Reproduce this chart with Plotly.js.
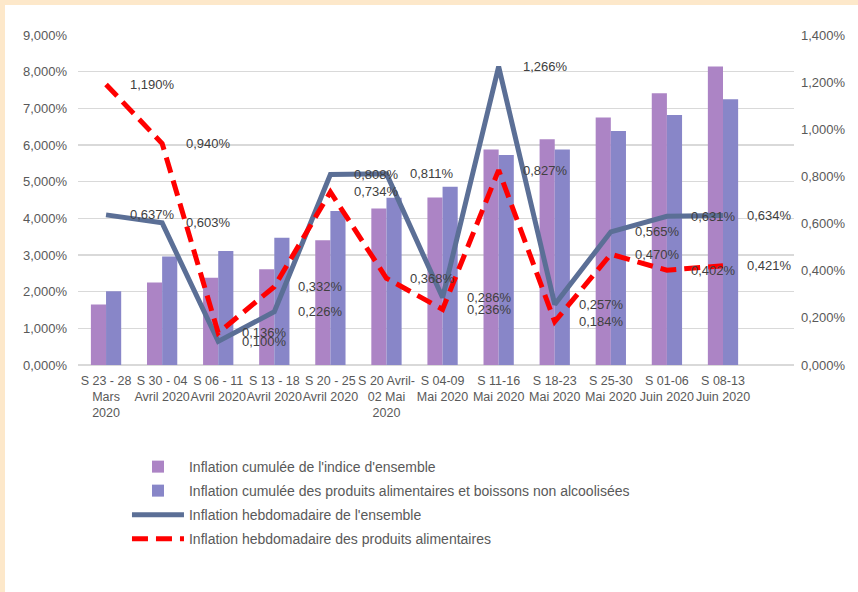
<!DOCTYPE html>
<html>
<head>
<meta charset="utf-8">
<script src="https://cdn.plot.ly/plotly-3.0.1.min.js"></script>
<style>
  html, body { margin: 0; padding: 0; background: #FDE8CA; width: 858px; height: 592px; overflow: hidden; }
  #chart { position: absolute; left: 5px; top: 5px; width: 853px; height: 587px; background: #fff; }
</style>
</head>
<body>
<div id="chart"></div>
<script>
const categories = [
  "S 23 - 28<br>Mars<br>2020", "S 30 - 04<br>Avril 2020", "S 06 - 11<br>Avril 2020",
  "S 13 - 18<br>Avril 2020", "S 20 - 25<br>Avril 2020", "S 20 Avril-<br>02 Mai<br>2020",
  "S 04-09<br>Mai 2020", "S 11-16<br>Mai 2020", "S 18-23<br>Mai 2020",
  "S 25-30<br>Mai 2020", "S 01-06<br>Juin 2020", "S 08-13<br>Juin 2020"
];
const cumEnsemble = [1.65, 2.25, 2.38, 2.61, 3.40, 4.27, 4.57, 5.88, 6.16, 6.75, 7.41, 8.14];
const cumAlim     = [2.01, 2.96, 3.11, 3.47, 4.20, 4.56, 4.86, 5.73, 5.88, 6.38, 6.82, 7.25];
const hebdoEnsemble = [0.637, 0.603, 0.100, 0.226, 0.808, 0.811, 0.286, 1.266, 0.257, 0.565, 0.631, 0.634];
const hebdoAlim     = [1.190, 0.940, 0.136, 0.332, 0.734, 0.368, 0.236, 0.827, 0.184, 0.470, 0.402, 0.421];
const seriesNames = [
  "Inflation cumulée de l'indice d'ensemble",
  "Inflation cumulée des produits alimentaires et boissons non alcoolisées",
  "Inflation hebdomadaire de l'ensemble",
  "Inflation hebdomadaire des produits alimentaires"
];

const fmt = v => v.toFixed(3).replace('.', ',') + '%';
const tickFont = {family: "Liberation Sans, Arial, sans-serif", size: 13, color: "#595959"};
const xTickFont = {family: "Liberation Sans, Arial, sans-serif", size: 12.5, color: "#595959"};

const traces = [
  {type: 'bar', name: seriesNames[0], legendgroup: 'a', x: categories, y: cumEnsemble, marker: {color: '#AC84C5'}, yaxis: 'y'},
  {type: 'bar', name: seriesNames[1], legendgroup: 'b', x: categories, y: cumAlim, marker: {color: '#8886C8'}, yaxis: 'y'},
  {type: 'scatter', mode: 'lines', name: seriesNames[2], legendgroup: 'c', x: categories, y: hebdoEnsemble, yaxis: 'y2',
   line: {color: '#5B6F96', width: 5}},
  {type: 'scatter', mode: 'lines', name: seriesNames[3], legendgroup: 'd', x: categories, y: hebdoAlim, yaxis: 'y2',
   line: {color: '#FF0000', width: 5, dash: '16px,8px'}}
];

const annotations = [];
[hebdoEnsemble, hebdoAlim].forEach(arr => {
  arr.forEach((v, i) => {
    annotations.push({
      x: categories[i], y: v, xref: 'x', yref: 'y2', text: fmt(v),
      showarrow: false, xanchor: 'left', yanchor: 'middle', xshift: 22,
      font: {family: "Liberation Sans, Arial, sans-serif", size: 13, color: '#404040'}
    });
  });
});

const layout = {
  width: 853, height: 587,
  margin: {l: 73, r: 64, t: 30, b: 227},
  paper_bgcolor: '#ffffff', plot_bgcolor: '#ffffff',
  separators: ', ',
  barmode: 'group', bargap: 0.46, bargroupgap: 0,
  showlegend: true,
  legend: {
    x: 0.0684, xanchor: 'left', y: -0.2607, yanchor: 'top',
    orientation: 'v', itemwidth: 52, traceorder: 'grouped', tracegroupgap: 2.8,
    font: {family: "Liberation Sans, Arial, sans-serif", size: 14, color: '#595959'},
    bgcolor: 'rgba(0,0,0,0)'
  },
  xaxis: {
    type: 'category', tickfont: xTickFont, showgrid: false, showline: false, zeroline: false,
    ticks: '', ticklabelstandoff: 6, tickangle: 0
  },
  yaxis: {
    range: [0, 9], dtick: 1, tickformat: '.3f', ticksuffix: '%', tickfont: tickFont,
    showgrid: true, gridcolor: '#D9D9D9', gridwidth: 1.5, zeroline: true, zerolinecolor: '#D9D9D9', zerolinewidth: 1.5,
    showline: false, ticks: '', ticklabelstandoff: 10
  },
  yaxis2: {
    range: [0, 1.4], dtick: 0.2, tickformat: '.3f', ticksuffix: '%', tickfont: tickFont,
    overlaying: 'y', side: 'right', showgrid: false, zeroline: false, showline: false, ticks: '',
    ticklabelstandoff: 6
  },
  annotations: annotations
};

Plotly.newPlot('chart', traces, layout, {staticPlot: true, displayModeBar: false});
</script>
</body>
</html>
